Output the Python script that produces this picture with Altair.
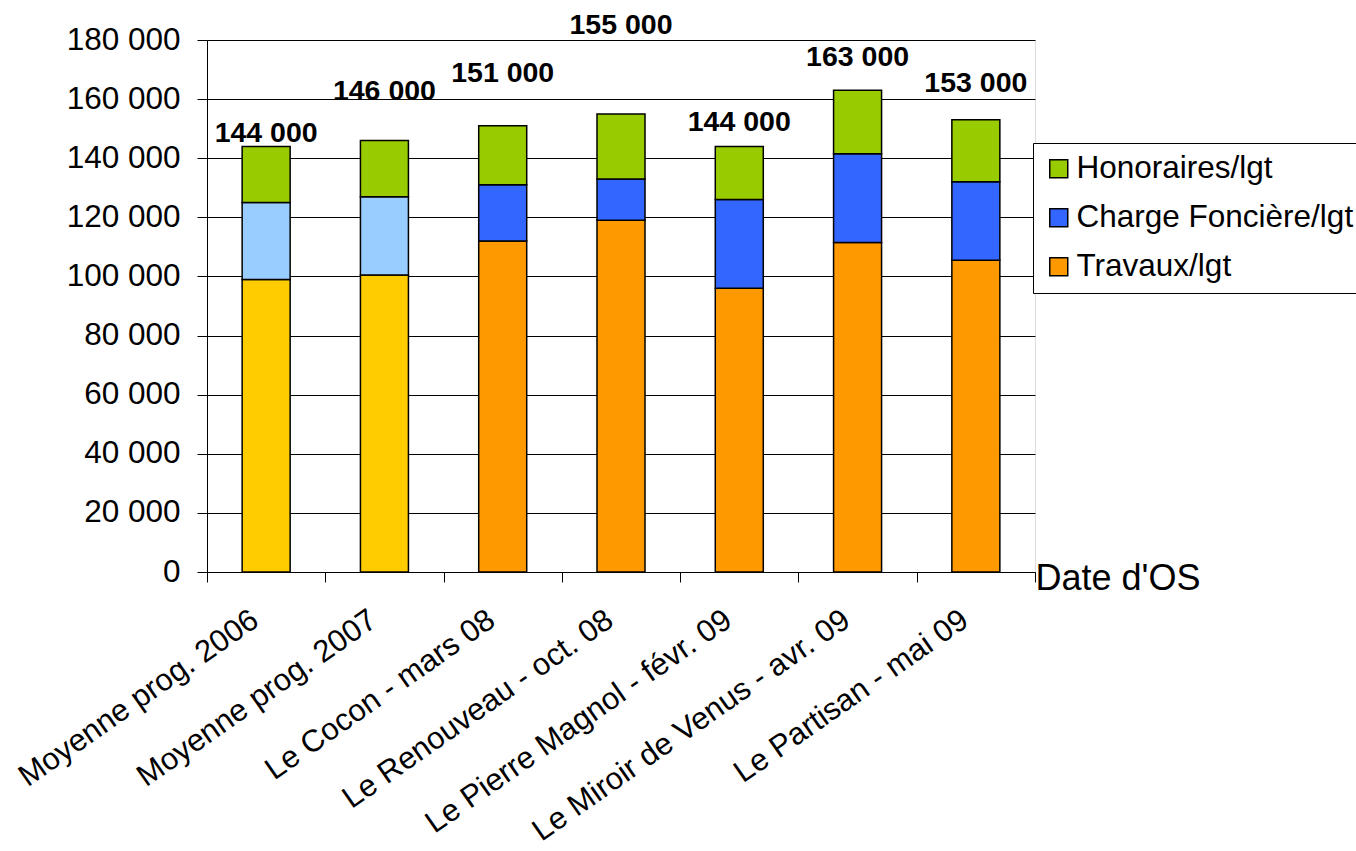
import altair as alt
import pandas as pd

categories = [
    "Moyenne prog. 2006",
    "Moyenne prog. 2007",
    "Le Cocon - mars 08",
    "Le Renouveau - oct. 08",
    "Le Pierre Magnol - févr. 09",
    "Le Miroir de Venus - avr. 09",
    "Le Partisan - mai 09",
]
travaux = [99000, 100500, 112000, 119000, 96000, 111500, 105500]
charge_fonciere = [26000, 26500, 19000, 14000, 30000, 30000, 26500]
honoraires = [19000, 19000, 20000, 22000, 18000, 21500, 21000]
totals = [144000, 146000, 151000, 155000, 144000, 163000, 153000]
label_levels = [148500, 162700, 168800, 185000, 152200, 174200, 165400]
is_average = [True, True, False, False, False, False, False]

series_names = ["Honoraires/lgt", "Charge Foncière/lgt", "Travaux/lgt"]
avg_names = ["Charge Foncière (moy.)", "Travaux (moy.)"]
color_domain = series_names + avg_names
color_range = ["#99CC00", "#3366FF", "#FF9900", "#99CCFF", "#FFCC00"]

rows = []
for i, cat in enumerate(categories):
    avg = is_average[i]
    rows.append({"cat": cat, "serie": "Travaux (moy.)" if avg else "Travaux/lgt",
                 "valeur": travaux[i], "rang": 0})
    rows.append({"cat": cat, "serie": "Charge Foncière (moy.)" if avg else "Charge Foncière/lgt",
                 "valeur": charge_fonciere[i], "rang": 1})
    rows.append({"cat": cat, "serie": "Honoraires/lgt", "valeur": honoraires[i], "rang": 2})
bars_df = pd.DataFrame(rows)

labels_df = pd.DataFrame({
    "cat": categories,
    "niveau": label_levels,
    "texte": [f"{t:,}".replace(",", " ") for t in totals],
})

FONT = "Liberation Sans"
W, H = 828, 532

x_enc = alt.X(
    "cat:N",
    sort=categories,
    scale=alt.Scale(paddingInner=0, paddingOuter=0),
    axis=alt.Axis(
        title="Date d'OS",
        titleX=W,
        titleY=17,
        titleAlign="left",
        titleBaseline="alphabetic",
        titleAngle=0,
        titleFontSize=36,
        titleFontWeight="normal",
        titleFont=FONT,
        titleColor="black",
        labelAngle=-35,
        labelAlign="right",
        labelBaseline="alphabetic",
        labelFontSize=31,
        labelFont=FONT,
        labelColor="black",
        labelPadding=42,
        labelOffset=-6,
        labelLimit=0,
        tickBand="extent",
        tickSize=10,
        tickColor="black",
        domainColor="black",
        grid=False,
    ),
)

y_scale = alt.Scale(domain=[0, 180000], nice=False)

bars = alt.Chart(bars_df).mark_bar(size=48, stroke="black", strokeWidth=1.5).encode(
    x=x_enc,
    y=alt.Y(
        "valeur:Q",
        stack="zero",
        scale=y_scale,
        axis=alt.Axis(
            title=None,
            values=list(range(0, 180001, 20000)),
            labelExpr="replace(format(datum.value, ','), ',', ' ')",
            labelFontSize=31.5,
            labelFont=FONT,
            labelColor="black",
            labelPadding=17,
            tickSize=10,
            tickColor="black",
            domainColor="black",
            grid=True,
            gridColor="black",
            gridWidth=1,
            gridOpacity=1,
        ),
    ),
    color=alt.Color(
        "serie:N",
        scale=alt.Scale(domain=color_domain, range=color_range),
        legend=alt.Legend(
            title=None,
            values=series_names,
            orient="none",
            legendX=826,
            legendY=103,
            fillColor="white",
            strokeColor="black",
            padding=10,
            symbolType="square",
            symbolSize=324,
            symbolStrokeColor="black",
            symbolStrokeWidth=1.5,
            symbolOpacity=1,
            labelFontSize=31.5,
            labelFont=FONT,
            labelColor="black",
            labelOffset=2,
            rowPadding=16,
            labelLimit=0,
        ),
    ),
    order=alt.Order("rang:Q", sort="ascending"),
)

texts = alt.Chart(labels_df).mark_text(
    font=FONT, fontSize=28.5, fontWeight="bold", color="black", baseline="middle"
).encode(
    x=alt.X("cat:N", sort=categories),
    y=alt.Y("niveau:Q", scale=y_scale),
    text="texte:N",
)

chart = alt.layer(bars, texts).properties(
    width=W,
    height=H,
    autosize=alt.AutoSizeParams(type="none"),
    padding={"left": 207, "top": 40, "right": 1356 - 207 - W, "bottom": 851 - 40 - H},
).configure_view(stroke=None).configure(background="white")

chart.save("out.html", embed_options={"renderer": "svg", "actions": False})
